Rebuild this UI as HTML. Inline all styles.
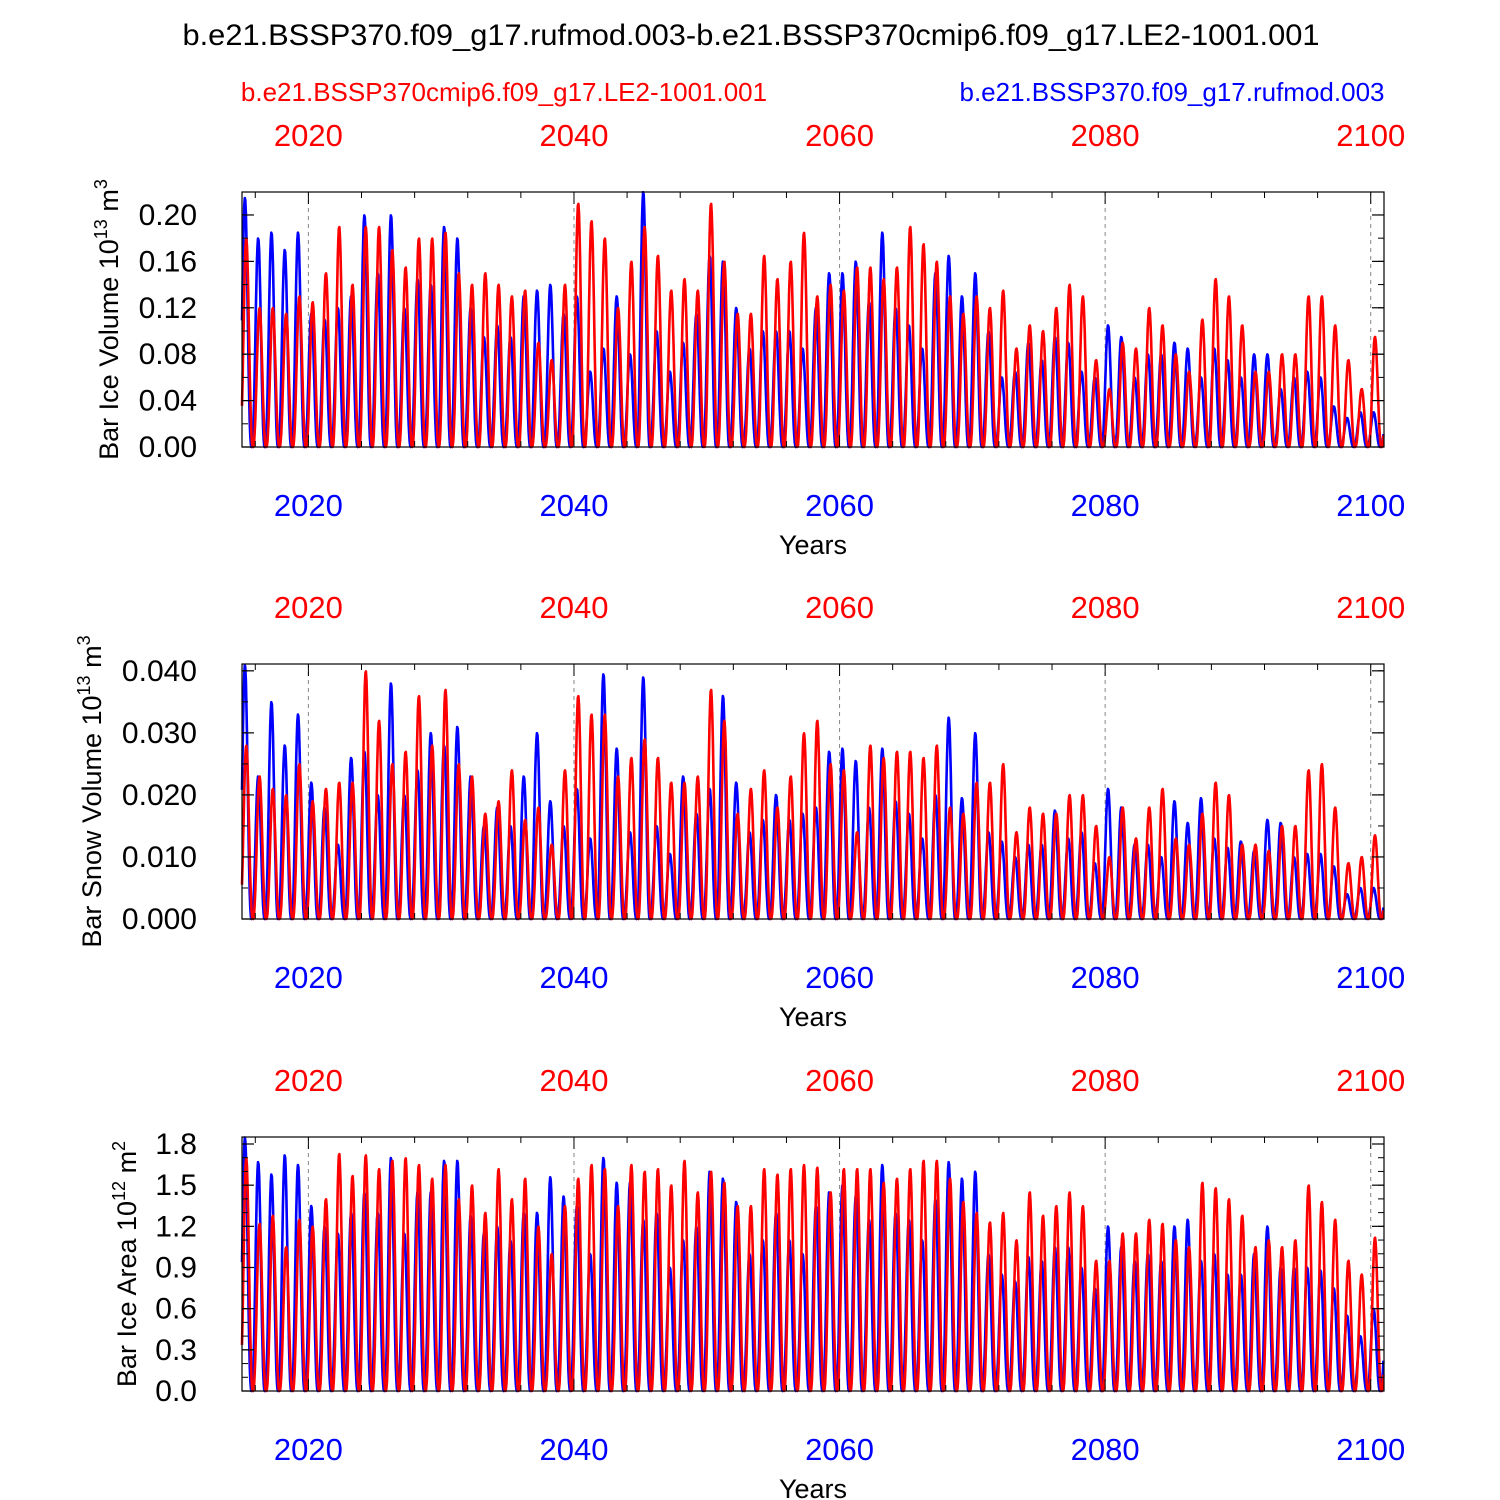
<!DOCTYPE html>
<html><head><meta charset="utf-8">
<style>
html,body{margin:0;padding:0;background:#fff;}
svg{display:block;font-family:"Liberation Sans",sans-serif;}
</style></head>
<body>
<svg id="chart" width="1500" height="1500" viewBox="0 0 1500 1500">
<text x="751" y="45" text-anchor="middle" font-size="30" textLength="1137" lengthAdjust="spacingAndGlyphs">b.e21.BSSP370.f09_g17.rufmod.003-b.e21.BSSP370cmip6.f09_g17.LE2-1001.001</text>
<text x="504" y="101" text-anchor="middle" font-size="26" fill="#ff0000">b.e21.BSSP370cmip6.f09_g17.LE2-1001.001</text>
<text x="1172" y="101" text-anchor="middle" font-size="26" fill="#0000ff">b.e21.BSSP370.f09_g17.rufmod.003</text>
</svg>
<script>
const years = [];
for (let y = 2015; y <= 2100; y++) years.push(y);
const xTicks = [2020, 2040, 2060, 2080, 2100];

const iceVolRed = [0.18,0.12,0.12,0.115,0.13,0.125,0.15,0.19,0.14,0.19,0.19,0.17,0.155,0.18,0.18,0.185,0.15,0.14,0.15,0.14,0.13,0.135,0.09,0.075,0.14,0.21,0.195,0.18,0.12,0.16,0.19,0.165,0.135,0.145,0.135,0.21,0.16,0.115,0.115,0.165,0.145,0.16,0.185,0.13,0.14,0.135,0.155,0.155,0.145,0.155,0.19,0.175,0.16,0.13,0.115,0.13,0.12,0.135,0.085,0.105,0.1,0.12,0.14,0.13,0.075,0.05,0.09,0.085,0.12,0.105,0.08,0.065,0.11,0.145,0.13,0.105,0.065,0.065,0.08,0.08,0.13,0.13,0.105,0.075,0.05,0.095];
const iceVolBlue = [0.215,0.18,0.185,0.17,0.185,0.115,0.11,0.12,0.13,0.2,0.15,0.2,0.12,0.145,0.14,0.19,0.18,0.12,0.095,0.105,0.095,0.13,0.135,0.14,0.115,0.13,0.065,0.085,0.13,0.08,0.22,0.1,0.065,0.09,0.115,0.165,0.16,0.12,0.085,0.1,0.1,0.1,0.085,0.12,0.15,0.15,0.16,0.125,0.185,0.12,0.105,0.085,0.15,0.165,0.13,0.15,0.1,0.06,0.065,0.09,0.075,0.095,0.09,0.065,0.06,0.105,0.095,0.06,0.08,0.08,0.09,0.085,0.06,0.085,0.075,0.06,0.08,0.08,0.05,0.06,0.065,0.06,0.035,0.025,0.03,0.03];
const snowVolRed = [0.028,0.023,0.021,0.02,0.025,0.019,0.021,0.022,0.022,0.04,0.032,0.025,0.027,0.036,0.028,0.037,0.025,0.023,0.017,0.019,0.024,0.016,0.018,0.012,0.024,0.036,0.033,0.033,0.023,0.026,0.029,0.026,0.022,0.022,0.023,0.037,0.032,0.017,0.021,0.024,0.018,0.023,0.03,0.032,0.025,0.024,0.014,0.028,0.026,0.027,0.027,0.026,0.028,0.018,0.017,0.022,0.022,0.025,0.014,0.018,0.017,0.017,0.02,0.02,0.015,0.01,0.018,0.013,0.018,0.021,0.013,0.012,0.017,0.022,0.02,0.012,0.012,0.011,0.015,0.015,0.024,0.025,0.018,0.009,0.01,0.0135];
const snowVolBlue = [0.041,0.023,0.035,0.028,0.033,0.022,0.018,0.012,0.026,0.027,0.02,0.038,0.02,0.024,0.03,0.028,0.031,0.023,0.015,0.018,0.015,0.023,0.03,0.019,0.015,0.021,0.013,0.0395,0.0275,0.014,0.039,0.015,0.0105,0.023,0.017,0.021,0.036,0.022,0.014,0.016,0.02,0.016,0.017,0.018,0.027,0.0275,0.0255,0.018,0.0275,0.019,0.017,0.013,0.02,0.0325,0.0195,0.03,0.014,0.0125,0.01,0.012,0.012,0.0175,0.013,0.014,0.009,0.021,0.018,0.012,0.012,0.01,0.019,0.0155,0.0195,0.013,0.0115,0.0125,0.011,0.016,0.0155,0.01,0.0105,0.0105,0.0085,0.004,0.005,0.005];
const iceAreaRed = [1.7,1.22,1.28,1.05,1.25,1.2,1.4,1.73,1.57,1.72,1.62,1.68,1.7,1.65,1.55,1.65,1.4,1.5,1.3,1.62,1.4,1.55,1.2,1.0,1.35,1.55,1.65,1.62,1.35,1.65,1.6,1.62,1.5,1.68,1.45,1.6,1.52,1.35,1.35,1.62,1.58,1.62,1.65,1.63,1.45,1.62,1.62,1.62,1.52,1.55,1.62,1.68,1.68,1.55,1.38,1.3,1.23,1.3,1.1,1.45,1.28,1.35,1.45,1.35,0.95,0.95,1.15,1.15,1.25,1.22,1.1,1.05,1.52,1.48,1.4,1.28,1.05,1.1,1.05,1.1,1.5,1.38,1.25,0.95,0.85,1.12];
const iceAreaBlue = [1.85,1.67,1.58,1.72,1.65,1.35,1.2,1.15,1.3,1.45,1.3,1.7,1.15,1.45,1.45,1.68,1.68,1.28,1.15,1.2,1.1,1.3,1.3,1.56,1.42,1.35,1.0,1.7,1.52,1.52,1.25,1.3,0.9,1.1,1.2,1.6,1.55,1.38,1.0,1.1,1.3,1.1,1.0,1.35,1.45,1.5,1.42,1.25,1.65,1.3,1.25,1.1,1.4,1.67,1.55,1.6,1.0,0.85,0.8,0.98,0.95,1.05,1.05,0.9,0.75,1.2,1.05,0.95,1.0,0.95,1.2,1.25,0.95,1.0,0.85,0.85,1.0,1.2,0.9,0.9,0.9,0.88,0.75,0.55,0.4,0.6];

const iceVolTicks = ["0.00","0.04","0.08","0.12","0.16","0.20"];
const snowVolTicks = ["0.000","0.010","0.020","0.030","0.040"];
const iceAreaTicks = ["0.0","0.3","0.6","0.9","1.2","1.5","1.8"];

const NS = "http://www.w3.org/2000/svg";
const svg = document.getElementById('chart');
function mk(tag, attrs, parent) {
  const e = document.createElementNS(NS, tag);
  for (const k in attrs) e.setAttribute(k, attrs[k]);
  (parent || svg).appendChild(e);
  return e;
}
const X0 = 242, X1 = 1384, T0 = 2015, T1 = 2101;
const xScale = t => X0 + (t - T0) / (T1 - T0) * (X1 - X0);

function season(frac, phase) {
  let d = frac - phase; d -= Math.round(d);
  const c = 0.5 + 0.5 * Math.cos(2 * Math.PI * d);
  return Math.pow(c, 1.3);
}

const panels = [
  {name:'ice-volume', top:192, bot:447, ymax:0.2198, ticks:iceVolTicks, minor:0.02, red:iceVolRed, blue:iceVolBlue,
   title:'Bar Ice Volume 10', exp1:'13', unit:' m', exp2:'3', titleX:118},
  {name:'snow-volume', top:664, bot:919, ymax:0.0411, ticks:snowVolTicks, minor:0.005, red:snowVolRed, blue:snowVolBlue,
   title:'Bar Snow Volume 10', exp1:'13', unit:' m', exp2:'3', titleX:101},
  {name:'ice-area', top:1137, bot:1391, ymax:1.851, ticks:iceAreaTicks, minor:0.1, red:iceAreaRed, blue:iceAreaBlue,
   title:'Bar Ice Area 10', exp1:'12', unit:' m', exp2:'2', titleX:136}
];

panels.forEach(p => {
  const g = mk('g', {});
  
  
  const yScale = v => p.bot - v / p.ymax * (p.bot - p.top);

  xTicks.forEach(t => {
    const l = mk('line', {x1:xScale(t), x2:xScale(t), y1:p.top, y2:p.bot, stroke:'#888', 'stroke-width':1, 'stroke-dasharray':'4,4'}, g);
    
    
  });

  [['blue', p.blue, '#0000ff', 0.22], ['red', p.red, '#ff0000', 0.32]].forEach(([nm, arr, col, ph]) => {
    let d = '';
    const N = 24;
    for (let i = 0; i < arr.length; i++) {
      for (let k = 0; k < N; k++) {
        const frac = k / N;
        const t = years[i] + frac;
        const peak = frac < ph + 0.5 ? arr[i] : (i + 1 < arr.length ? arr[i + 1] : arr[i]);
        const v = peak * season(frac, ph);
        d += (d ? 'L' : 'M') + xScale(t).toFixed(1) + ',' + yScale(v).toFixed(1);
      }
    }
    const pth = mk('path', {d, fill:'none', stroke:col, 'stroke-width':2.6, 'stroke-linejoin':'round'}, g);
    
    
  });

  const fr = mk('rect', {x:X0, y:p.top, width:X1 - X0, height:p.bot - p.top, fill:'none', stroke:'#000', 'stroke-width':1.2}, g);
  
  

  for (let v = 0; v <= p.ymax + 1e-9; v += p.minor) {
    const y = yScale(v);
    mk('line', {x1:X0, x2:X0 + 6, y1:y, y2:y, stroke:'#000', 'stroke-width':1}, g);
    mk('line', {x1:X1, x2:X1 - 6, y1:y, y2:y, stroke:'#000', 'stroke-width':1}, g);
  }
  p.ticks.forEach(s => {
    const y = yScale(parseFloat(s));
    mk('line', {x1:X0, x2:X0 + 12, y1:y, y2:y, stroke:'#000', 'stroke-width':1.2}, g);
    mk('line', {x1:X1, x2:X1 - 12, y1:y, y2:y, stroke:'#000', 'stroke-width':1.2}, g);
    const tx = mk('text', {x:197, y:y + 10, 'text-anchor':'end', 'font-size':30}, g);
    tx.textContent = s;
    
    
  });

  for (let t = 2016; t <= 2100; t += 4) {
    const x = xScale(t);
    const major = xTicks.includes(t);
    const len = major ? 12 : 6;
    mk('line', {x1:x, x2:x, y1:p.bot, y2:p.bot - len, stroke:'#000', 'stroke-width':1}, g);
    mk('line', {x1:x, x2:x, y1:p.top, y2:p.top + len, stroke:'#000', 'stroke-width':1}, g);
  }
  xTicks.forEach(t => {
    const a = mk('text', {x:xScale(t), y:p.top - 46, 'text-anchor':'middle', 'font-size':31, fill:'#ff0000'}, g);
    a.textContent = t;
    
    
    const b = mk('text', {x:xScale(t), y:p.bot + 69, 'text-anchor':'middle', 'font-size':31, fill:'#0000ff'}, g);
    b.textContent = t;
    
    
  });
  const xt = mk('text', {x:813, y:p.bot + 107, 'text-anchor':'middle', 'font-size':27}, g);
  xt.textContent = 'Years';
  
  

  const cy = (p.top + p.bot) / 2;
  const yt = mk('text', {x:0, y:0, 'text-anchor':'middle', 'font-size':27, transform:`translate(${p.titleX},${cy}) rotate(-90)`}, g);
  
  
  const s1 = mk('tspan', {}, yt); s1.textContent = p.title;
  const s2 = mk('tspan', {dy:-11, 'font-size':18}, yt); s2.textContent = p.exp1;
  const s3 = mk('tspan', {dy:11}, yt); s3.textContent = p.unit;
  const s4 = mk('tspan', {dy:-11, 'font-size':18}, yt); s4.textContent = p.exp2;
});
</script>
</body></html>
